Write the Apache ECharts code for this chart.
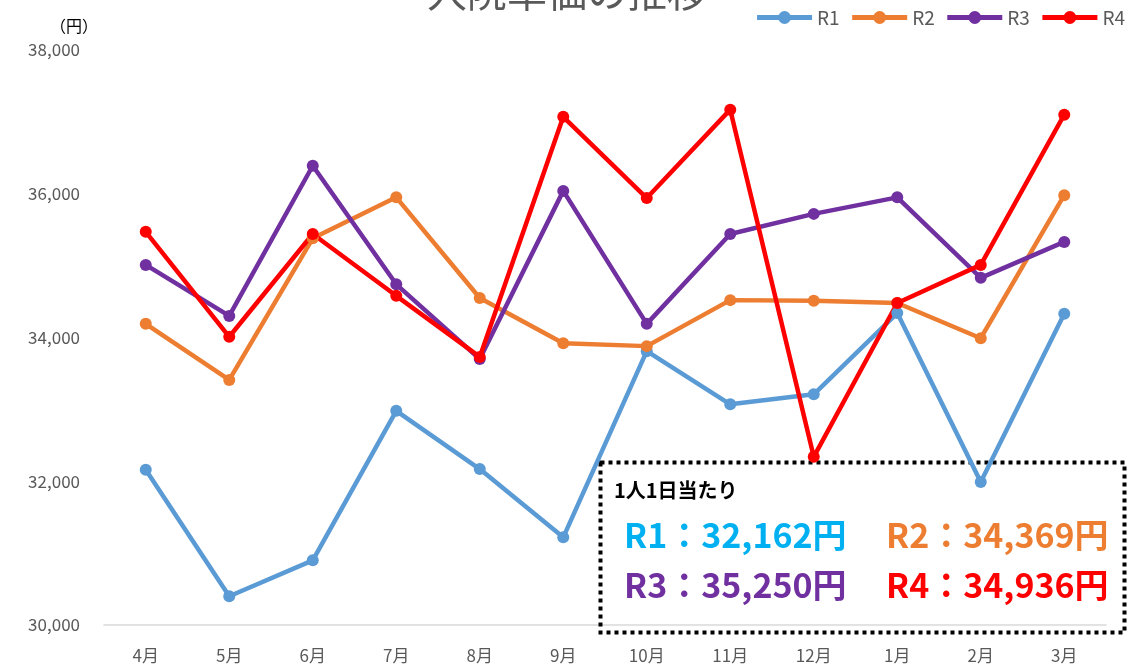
<!DOCTYPE html>
<html>
<head>
<meta charset="utf-8">
<script src="https://cdn.jsdelivr.net/npm/echarts@6/dist/echarts.min.js"></script>
<style>
  html, body { margin: 0; padding: 0; background: #fff; }
  #chart { width: 1134px; height: 668px; }
</style>
</head>
<body>
<div id="chart"></div>
<script>
var months = ['4月', '5月', '6月', '7月', '8月', '9月', '10月', '11月', '12月', '1月', '2月', '3月'];
var r1 = [32160, 30400, 30900, 32980, 32170, 31220, 33810, 33070, 33210, 34340, 31990, 34330];
var r2 = [34190, 33410, 35380, 35950, 34550, 33920, 33880, 34520, 34510, 34480, 33990, 35980];
var r3 = [35010, 34300, 36390, 34740, 33700, 36040, 34190, 35440, 35720, 35950, 34830, 35330];
var r4 = [35470, 34010, 35440, 34580, 33730, 37070, 35940, 37170, 32340, 34480, 35010, 37100];
var seriesNames = ['R1', 'R2', 'R3', 'R4'];
var seriesColors = ['#5B9BD5', '#ED7D31', '#7030A0', '#FF0000'];
var averages = ['32,162', '34,369', '35,250', '34,936'];
var averageColors = ['#00B0F0', '#ED7D31', '#7030A0', '#FF0000'];

var chart = echarts.init(document.getElementById('chart'));
var font = '"Noto Sans CJK JP", "Noto Sans", sans-serif';

function makeSeries(name, data, color) {
    return {
        name: name,
        type: 'line',
        data: data,
        symbol: 'circle',
        symbolSize: 12,
        itemStyle: { color: color },
        lineStyle: { color: color, width: 4.5 },
        z: 2
    };
}

// summary box (bottom right), drawn under the lines
var box = [
    {
        type: 'rect',
        left: 598, top: 460,
        shape: { width: 524, height: 170 },
        style: { fill: 'none', stroke: '#000', lineWidth: 4, lineDash: [4, 4] },
        z: 1
    },
    {
        type: 'text',
        left: 614, top: 480,
        style: { text: '1人1日当たり', fill: '#000', font: 'bold 20px ' + font },
        z: 1
    }
];
var pos = [[624, 518], [886, 518], [624, 568], [886, 568]];
for (var i = 0; i < 4; i++) {
    box.push({
        type: 'text',
        left: pos[i][0], top: pos[i][1],
        style: {
            text: seriesNames[i] + '：' + averages[i] + '円',
            fill: averageColors[i],
            font: 'bold 34px ' + font
        },
        z: 1
    });
}

var option = {
    backgroundColor: '#fff',
    textStyle: { fontFamily: font },
    title: {
        text: '入院単価の推移',
        left: 'center',
        top: -33,
        textStyle: { fontSize: 40, fontWeight: 'normal', color: '#595959', fontFamily: font }
    },
    legend: {
        data: seriesNames,
        top: 3,
        right: 4,
        itemWidth: 55,
        itemHeight: 16,
        itemGap: 10,
        lineStyle: { width: 5 },
        textStyle: { fontSize: 19, color: '#595959' }
    },
    grid: { left: 104, right: 28, top: 50, bottom: 43 },
    xAxis: {
        type: 'category',
        data: months,
        boundaryGap: true,
        axisLine: { lineStyle: { color: '#d9d9d9', width: 1.5 } },
        axisTick: { show: false },
        axisLabel: { color: '#595959', fontSize: 17, margin: 22 }
    },
    yAxis: {
        type: 'value',
        name: '（円）',
        nameLocation: 'end',
        nameGap: 16,
        nameTextStyle: { color: '#000', fontSize: 16, align: 'center', padding: [0, 0, 0, -60] },
        min: 30000,
        max: 38000,
        interval: 2000,
        splitLine: { show: false },
        axisLine: { show: false },
        axisTick: { show: false },
        axisLabel: {
            color: '#595959',
            fontSize: 17,
            margin: 24,
            formatter: function (v) { return v.toLocaleString('en-US'); }
        }
    },
    series: [
        makeSeries('R1', r1, seriesColors[0]),
        makeSeries('R2', r2, seriesColors[1]),
        makeSeries('R3', r3, seriesColors[2]),
        makeSeries('R4', r4, seriesColors[3])
    ],
    graphic: box
};

chart.setOption(option);
</script>
</body>
</html>
